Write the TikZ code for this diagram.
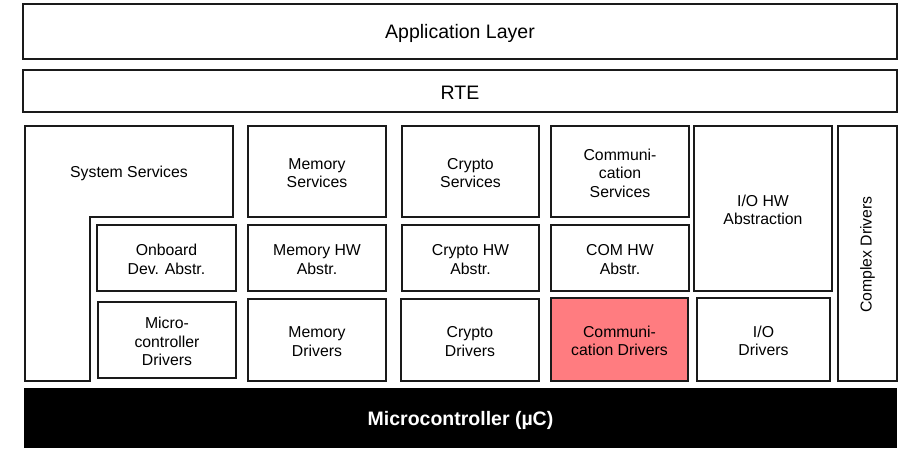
\documentclass[tikz,border=0pt]{standalone}
\usepackage{fontspec}
\setmainfont{Liberation Sans}
\definecolor{comred}{HTML}{FF7C80}
\definecolor{edge}{HTML}{1A1A1A}
\tikzset{
  txt/.style={font=\fontsize{15.8}{18.4}\selectfont, align=center},
  blk/.style={draw=edge, line width=1.1pt, inner sep=0pt, outer sep=0pt, txt},
  wide/.style={blk, font=\fontsize{19.5}{22}\selectfont},
}
% \layerbox{name}{x1}{y1}{x2}{y2}{style}{text}
\newcommand{\layerbox}[7]{%
  \node[#6, minimum width={(#4-#2)*1pt}, minimum height={(#5-#3)*1pt}]
    (#1) at ({(#2+#4)/2},{(#3+#5)/2}) {};
  \node[#6, draw=none, fill=none, yshift=-1.5pt] (#1-t) at (#1.center) {#7};}
\begin{document}
\begin{tikzpicture}[x=1pt,y=-1pt]
\useasboundingbox (0,0) rectangle (901,448);
\fill[white] (0,0) rectangle (901,448);

% top layers
\layerbox{app}{23}{4}{897}{59}{wide}{Application Layer}
\layerbox{rte}{23}{70}{897}{112}{wide}{RTE}

% system services (L-shaped outline)
\draw[edge, line width=1.1pt] (25,126) -- (233,126) -- (233,217) -- (90,217)
  -- (90,381) -- (25,381) -- cycle;
\node[txt, yshift=-1.5pt] (sys) at (129,171.5) {System Services};

% service layer
\layerbox{memsrv}{248}{126}{386}{217}{blk}{Memory\\Services}
\layerbox{crysrv}{402}{126}{539}{217}{blk}{Crypto\\Services}
\layerbox{comsrv}{551}{126}{689}{217}{blk}{Communi-\\cation\\Services}
\layerbox{iohw}{694}{126}{832}{291}{blk}{I/O HW\\Abstraction}
\layerbox{cdd}{838}{126}{897}{381}{blk}{}
\node[txt, rotate=90, xshift=-1pt] (cddtxt) at (cdd.center) {Complex Drivers};

% hardware abstraction layer
\layerbox{onb}{97}{225}{236}{291}{blk}{Onboard\\Dev. Abstr.}
\layerbox{memhw}{248}{225}{386}{291}{blk}{Memory HW\\Abstr.}
\layerbox{cryhw}{402}{225}{539}{291}{blk}{Crypto HW\\Abstr.}
\layerbox{comhw}{551}{225}{689}{291}{blk}{COM HW\\Abstr.}

% driver layer
\layerbox{mcal}{98}{302}{236}{378}{blk}{Micro-\\controller\\Drivers}
\layerbox{memdrv}{248}{299}{386}{381}{blk}{Memory\\Drivers}
\layerbox{crydrv}{401}{299}{539}{381}{blk}{Crypto\\Drivers}
\layerbox{comdrv}{551}{298}{688}{381}{blk,fill=comred}{Communi-\\cation Drivers}
\layerbox{iodrv}{697}{298}{830}{381}{blk}{I/O\\Drivers}

% microcontroller
\node[fill=black, inner sep=0pt, outer sep=0pt,
  minimum width=873pt, minimum height=60pt] (mcu) at (460.5,418) {};
\node[text=white, yshift=-2pt, font=\bfseries\fontsize{19.5}{22}\selectfont]
  (mcu-t) at (mcu.center) {Microcontroller (µC)};
\end{tikzpicture}
\end{document}
